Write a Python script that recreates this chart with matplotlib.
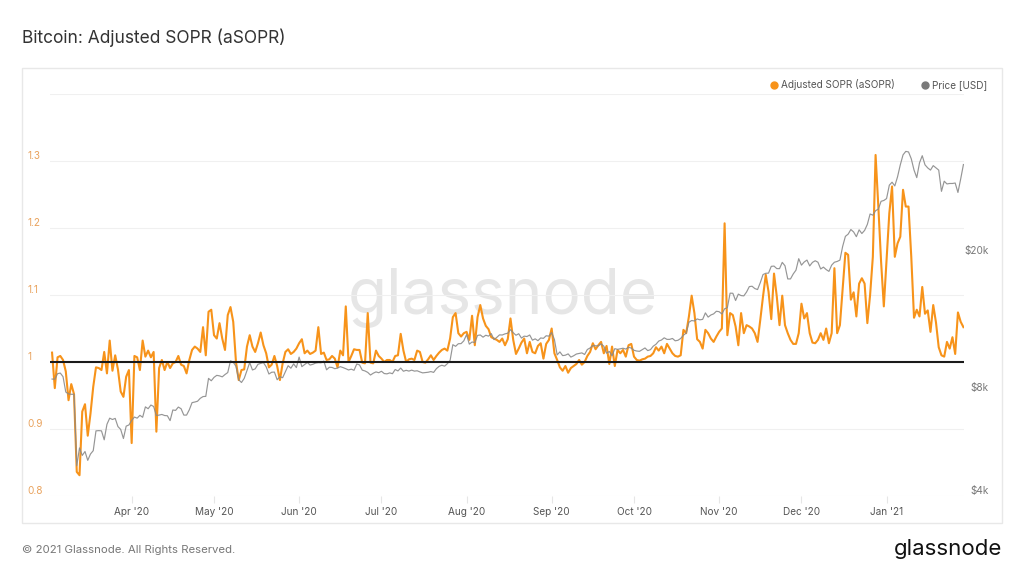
import matplotlib
matplotlib.use("Agg")
import matplotlib.pyplot as plt
import matplotlib.dates as mdates
from matplotlib.patches import Rectangle
from matplotlib.lines import Line2D
import pandas as pd

plt.rcParams["font.family"] = ["Inter", "DejaVu Sans"]

# daily values, 2020-03-03 .. 2021-01-29
start_date = "2020-03-03"

asopr = [
    1.014, 0.961, 1.007, 1.009, 1.003, 0.986, 0.943, 0.967, 0.952, 0.836,
    0.831, 0.926, 0.937, 0.890, 0.923, 0.963, 0.992, 0.991, 0.988, 1.015,
    0.983, 1.032, 0.987, 1.010, 0.989, 0.956, 0.948, 0.978, 0.988, 0.879,
    1.009, 1.007, 0.988, 1.032, 1.008, 1.017, 1.007, 1.015, 0.896, 0.991,
    1.003, 0.988, 1.000, 0.991, 0.998, 1.000, 1.009, 0.996, 0.994, 0.983,
    1.003, 1.018, 1.023, 1.020, 1.015, 1.052, 1.010, 1.075, 1.078, 1.040,
    1.035, 1.058, 1.035, 1.018, 1.070, 1.082, 1.060, 1.000, 0.973, 0.988,
    0.989, 1.023, 1.040, 1.023, 1.015, 1.028, 1.044, 1.025, 1.013, 0.992,
    0.996, 1.009, 0.994, 0.973, 0.998, 1.015, 1.019, 1.012, 1.015, 1.020,
    1.028, 1.034, 1.013, 1.017, 1.012, 1.014, 1.017, 1.052, 1.012, 1.014,
    1.003, 1.004, 1.009, 1.005, 0.992, 1.017, 1.010, 1.083, 1.000, 1.009,
    1.019, 1.018, 1.018, 0.999, 0.998, 1.073, 0.999, 0.998, 1.017, 1.009,
    1.005, 1.000, 1.003, 1.003, 1.000, 1.009, 1.010, 1.042, 1.017, 1.000,
    1.004, 1.005, 1.003, 1.017, 1.015, 1.000, 0.999, 1.004, 1.010, 1.003,
    1.009, 1.014, 1.018, 1.020, 1.017, 1.035, 1.067, 1.073, 1.043, 1.038,
    1.043, 1.045, 1.033, 1.069, 1.025, 1.067, 1.085, 1.065, 1.054, 1.049,
    1.037, 1.035, 1.033, 1.030, 1.035, 1.025,
    1.034, 1.065, 1.033, 1.012, 1.020, 1.029, 1.035, 1.013, 1.030, 1.015,
    1.013, 1.024, 1.028, 1.005, 1.027, 1.033, 1.050, 1.013, 1.003, 0.992,
    0.987, 0.994, 0.984, 0.991, 0.994, 0.997, 1.003, 0.996, 1.000, 1.009,
    1.015, 1.028, 1.019, 1.025, 1.030, 1.013, 1.024, 0.997, 1.023, 0.994,
    1.018, 1.013, 1.018, 1.008, 1.025, 1.027, 1.008, 1.003, 1.002, 1.004,
    1.005, 1.008, 1.009, 1.013, 1.022, 1.017, 1.023, 1.013, 1.027, 1.020,
    1.013, 1.009, 1.008, 1.010, 1.048, 1.043, 1.068, 1.099, 1.073, 1.034,
    1.030, 1.020, 1.048, 1.043, 1.035, 1.030, 1.038, 1.045, 1.050, 1.207,
    1.040, 1.073, 1.070, 1.053, 1.025, 1.073, 1.043, 1.055, 1.053, 1.050,
    1.043, 1.030, 1.063, 1.098, 1.130, 1.105, 1.064, 1.132, 1.098, 1.055,
    1.099, 1.055, 1.043, 1.033, 1.027, 1.027, 1.043, 1.087, 1.065, 1.073,
    1.043, 1.029, 1.028, 1.033, 1.043, 1.033, 1.050, 1.028, 1.043, 1.140,
    1.043, 1.055, 1.109, 1.163, 1.160, 1.093, 1.104, 1.068, 1.117, 1.125,
    1.117, 1.058, 1.100, 1.157, 1.309, 1.232, 1.150, 1.083, 1.152, 1.222,
    1.262, 1.157, 1.177, 1.187, 1.257, 1.232, 1.232, 1.157, 1.066, 1.078,
    1.068, 1.112, 1.072, 1.077, 1.045, 1.085, 1.059, 1.022, 1.010, 1.008,
    1.030, 1.020, 1.037, 1.012, 1.074, 1.060, 1.052,
]

price = [
    # Mar 3 - Mar 31
    8760, 8750, 9080, 9120, 8900, 8030, 7930, 7910, 7910, 4900,
    5520, 5250, 5390, 5080, 5300, 5420, 6190, 6200, 6190, 5830,
    6470, 6740, 6680, 6730, 6370, 6250, 5880, 6390, 6440,
    # Apr
    6640, 6790, 6740, 6870, 6780, 7270, 7180, 7360, 7290, 6860,
    6880, 6910, 6860, 6850, 6630, 7120, 7100, 7260, 7180, 6880,
    6880, 7130, 7480, 7510, 7550, 7700, 7790, 7800, 8800, 8660,
    # May
    8860, 8980, 8950, 8890, 9030, 9150, 9900, 9810, 9540, 8720,
    8560, 8800, 9270, 9790, 9310, 9380, 9670, 9730, 9780, 9510,
    9060, 9170, 9180, 8720, 8900, 8840, 9200, 9580, 9420, 9700,
    9460,
    # Jun
    10150, 9520, 9650, 9790, 9620, 9670, 9750, 9780, 9770, 9880,
    9320, 9480, 9470, 9390, 9430, 9520, 9460, 9390, 9310, 9360,
    9290, 9690, 9630, 9300, 9250, 9160, 9000, 9110, 9190, 9140,
    # Jul
    9230, 9090, 9070, 9130, 9080, 9340, 9250, 9430, 9230, 9290,
    9240, 9300, 9240, 9260, 9190, 9130, 9150, 9170, 9210, 9160,
    9390, 9540, 9610, 9550, 9710, 9930, 11030, 10910, 11100, 11110,
    11320,
    # Aug
    11800, 11070, 11230, 11190, 11740, 11770, 11600, 11750, 11680, 11880,
    11410, 11580, 11780, 11770, 11860, 11910, 12200, 11950, 11750, 11870,
    11530, 11680, 11650, 11770, 11370, 11470, 11330, 11540, 11510, 11710,
    11680,
    # Sep
    11970, 11420, 10300, 10510, 10250, 10280, 10370, 10150, 10240, 10360,
    10400, 10440, 10330, 10680, 10790, 10960, 10950, 10940, 11090, 10920,
    10420, 10540, 10240, 10740, 10690, 10730, 10770, 10710, 10840, 10780,
    # Oct
    10620, 10570, 10550, 10670, 10790, 10600, 10670, 10920, 11060, 11300,
    11380, 11550, 11430, 11430, 11500, 11320, 11360, 11500, 11750, 11920,
    12820, 12970, 12930, 13110, 13030, 13070, 13650, 13270, 13460, 13560,
    13800,
    # Nov
    13760, 13550, 14030, 14130, 15580, 15570, 14830, 15480, 15330, 15300,
    15700, 16280, 16320, 16070, 15960, 16720, 17650, 17800, 17820, 18650,
    18680, 18370, 18360, 19150, 18720, 17140, 17140, 17720, 18180, 19630,
    # Dec
    18800, 19200, 19450, 18700, 19150, 19360, 19170, 18320, 18550, 18250,
    18030, 18800, 19170, 19270, 19440, 21310, 22800, 23140, 23870, 23480,
    22750, 23820, 23240, 23730, 24710, 26490, 26280, 27080, 27370, 28840,
    29000,
    # Jan
    29370, 32130, 32780, 31970, 33990, 36820, 39370, 40300, 40150, 38350,
    35570, 33800, 37320, 39150, 36830, 36070, 35550, 36630, 36070, 35550,
    30830, 33000, 32400, 32500, 32500, 32600, 30600, 33500, 36900,
]

dates = pd.date_range(start_date, periods=len(asopr), freq="D")

orange = "#f7931a"
grey = "#8a8a8a"

fig = plt.figure(figsize=(10.24, 5.76), dpi=100)
fig.patches.append(Rectangle((22 / 1024, 1 - 523 / 576), 980 / 1024, 455 / 576,
                             transform=fig.transFigure, fill=False,
                             edgecolor="#e8e8e8", linewidth=1))

ax = fig.add_axes([50 / 1024, 1 - 496 / 576, 914 / 1024, 402 / 576])
ax2 = ax.twinx()

# aSOPR (left)
ax.plot(dates, asopr, color=orange, lw=1.5, solid_joinstyle="round", zorder=2)
ax.set_ylim(0.8, 1.4)
ax.set_yticks([0.8, 0.9, 1.0, 1.1, 1.2, 1.3, 1.4])
ax.set_yticklabels(["0.8", "0.9", "1", "1.1", "1.2", "1.3", ""])
ax.yaxis.grid(True, color="#f0f0f0", lw=0.8)
ax.set_axisbelow(True)
ax.tick_params(axis="y", length=0, pad=16, labelsize=7.2, labelcolor="#e9a35e")
for lab in ax.get_yticklabels():
    lab.set_horizontalalignment("left")
    lab.set_verticalalignment("bottom")

ax.set_xlim(pd.Timestamp("2020-03-02 06:00"), pd.Timestamp("2021-01-29 05:00"))
ax.xaxis.set_major_locator(mdates.MonthLocator())
ax.xaxis.set_major_formatter(mdates.DateFormatter("%b '%y"))
ax.tick_params(axis="x", length=5, width=0.8, color="#e6e6e6", pad=3,
               labelsize=7.2, labelcolor="#555555")

for a in (ax, ax2):
    for s in a.spines.values():
        s.set_visible(False)

ax.text(0.4953, 0.4950, "glassnode", transform=ax.transAxes, fontsize=46,
        color="#e6e6e6", ha="center", va="center", zorder=0.5)

# price (right, log)
ax2.plot(dates, price, color=grey, lw=0.85, alpha=0.9, zorder=3)
ax2.set_yscale("log")
ax2.set_ylim(4000, 4000 * 10 ** (402 / 343.5))
ax2.minorticks_off()
ax2.set_yticks([4000, 8000, 20000])
ax2.set_yticklabels(["$4k", "$8k", "$20k"])
ax2.tick_params(axis="y", length=0, pad=18, labelsize=7.2, labelcolor="#777777")
for lab in ax2.get_yticklabels():
    lab.set_horizontalalignment("right")
    lab.set_verticalalignment("bottom")

# reference line at 1
ax2.plot([0, 1], [1, 1], transform=ax.get_yaxis_transform(), color="#1a1a1a",
         lw=1.5, zorder=4)

handles = [
    Line2D([], [], marker="o", ls="", color=orange, markersize=5),
    Line2D([], [], marker="o", ls="", color="#7a7a7a", markersize=5),
]
fig.legend(handles, ["Adjusted SOPR (aSOPR)", "Price [USD]"],
           loc="center right", bbox_to_anchor=(987 / 1024, 1 - 85 / 576),
           ncol=2, frameon=False, fontsize=7.2, labelcolor="#555555",
           handlelength=0.8, handletextpad=0.3, columnspacing=2.6,
           borderpad=0, borderaxespad=0)

fig.text(22 / 1024, 1 - 38 / 576, "Bitcoin: Adjusted SOPR (aSOPR)",
         fontsize=12.5, color="#333333", va="center")
fig.text(22 / 1024, 1 - 550 / 576, "© 2021 Glassnode. All Rights Reserved.",
         fontsize=8.2, color="#777777", va="center")
fig.text(1002 / 1024, 1 - 549 / 576, "glassnode", fontsize=16,
         color="#111111", ha="right", va="center")

fig.savefig("out.png", dpi=100, facecolor="white")
